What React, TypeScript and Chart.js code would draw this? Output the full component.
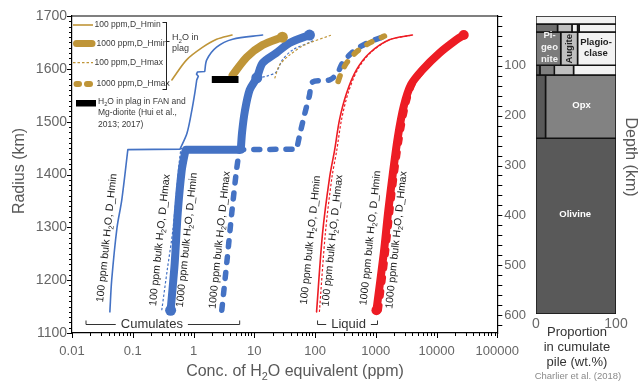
import React, { useEffect, useRef } from 'react';
import { Chart, registerables } from 'chart.js';

Chart.register(...registerables);

const FONT = "'Liberation Sans', Arial, Helvetica, sans-serif";
const BLUE = '#4472C4';
const GOLD = '#BF9538';
const RED = '#ED1C24';
const AXIS_TEXT = '#666666';
const TITLE_TEXT = '#595959';

// ---------- axis ticks ----------
const xDecades = [0.01, 0.1, 1, 10, 100, 1000, 10000, 100000];
const xDecadeLabels = ['0.01', '0.1', '1', '10', '100', '1000', '10000', '100000'];
const radiusTicks = [1100, 1200, 1300, 1400, 1500, 1600, 1700];
const depthTicks = [100, 200, 300, 400, 500, 600];
const proportionTicks = [0, 100];

// ---------- cumulates (blue) ----------
const cum100MinPpm = [0.042, 0.045, 0.055, 0.066, 0.083, 0.6, 0.78, 0.94, 1.05, 1.13, 1.2, 1.12, 1.16, 1.53, 1.65, 2.4, 4.4, 13.7];
const cum100MinKm = [1140, 1200, 1299, 1352, 1447, 1448, 1478, 1522, 1554, 1579, 1586, 1590, 1594, 1595, 1617, 1641, 1656, 1664];
const cum100MinCorners = [4, 5, 9, 10, 11, 12, 13];

const cum100MaxPpm = [0.3, 0.37, 0.457, 0.58, 0.62, 6.0, 6.4, 8.4, 11, 16, 23, 29, 43, 81, 100];
const cum100MaxKm = [1143, 1220, 1295, 1422, 1449, 1449, 1503, 1560, 1582, 1586, 1594, 1617, 1636, 1650, 1655];
const cum100MaxCorners = [4, 5, 8, 9];

const cum1000MinPpm = [0.42, 0.49, 0.55, 0.64, 0.72, 0.75, 6.0, 6.3, 7.0, 8.4, 11, 13.7, 23, 38, 81];
const cum1000MinKm = [1143, 1232, 1327, 1408, 1440, 1447, 1447, 1480, 1520, 1560, 1583, 1611, 1630, 1649, 1664];
const cum1000MinCorners = [5, 6];
const cum1000MinBulbs = [0, 10, 14];

const cum1000MaxPpm = [2.92, 3.52, 4.26, 5.1, 5.7, 50, 56, 67, 81, 91, 174, 234, 283, 400, 540, 790, 1290];
const cum1000MaxKm = [1143, 1232, 1327, 1408, 1447, 1448, 1475, 1513, 1550, 1575, 1579, 1592, 1611, 1630, 1641, 1651, 1660];
const cum1000MaxCorners = [4, 5];

// ---------- H2O in plag (gold) ----------
const plag100MinPpm = [0.44, 0.77, 1.42, 2.4, 4.3];
const plag100MinKm = [1579, 1617, 1641, 1656, 1664];
const plag1000MinPpm = [4.4, 7.5, 13.7, 29];
const plag1000MinKm = [1588, 1622, 1645, 1660];
const plag1000MinBulbs = [3];
const plag100MaxPpm = [21.7, 26, 38, 67, 186];
const plag100MaxKm = [1582, 1607, 1626, 1645, 1664];
const plag1000MaxPpm = [240, 265, 330, 480, 790, 1390];
const plag1000MaxKm = [1576, 1590, 1611, 1632, 1649, 1662];

// ---------- liquid (red) ----------
const liq100MinPpm = [106, 133, 174, 210, 252, 330, 480, 790, 1670, 4000];
const liq100MinKm = [1140, 1289, 1395, 1446, 1503, 1554, 1598, 1630, 1655, 1664];
const liq100MaxPpm = [118, 148, 190, 228, 272, 350, 500, 810, 1700, 4000];
const liq100MaxKm = [1140, 1289, 1395, 1446, 1503, 1554, 1598, 1630, 1655, 1664];
const liq1000MinPpm = [1025, 1350, 1600, 1900, 2300, 2900, 3800, 5860, 11200, 21200, 28000];
const liq1000MinKm = [1143, 1250, 1330, 1400, 1470, 1530, 1570, 1598, 1630, 1655, 1664];
const liq1000MinBulbs = [0, 10];
const liq1000MaxPpm = [1150, 1500, 1780, 2100, 2550, 3200, 4100, 6200, 11700, 21500, 28500];
const liq1000MaxKm = [1143, 1250, 1330, 1400, 1470, 1530, 1570, 1598, 1630, 1655, 1664];

// ---------- measured H2O in plag (FAN / Mg-diorite) ----------
const fanPlagPpm = [2.0, 5.5];
const fanPlagKm = [1580, 1580];

// ---------- curve labels ----------
const curveLabels = [
  { t: '100 ppm bulk H₂O, D_Hmin', x: 0.0376, r: 1280 },
  { t: '100 ppm bulk H₂O, D_Hmax', x: 0.28, r: 1276 },
  { t: '1000 ppm bulk H₂O, D_Hmin', x: 0.78, r: 1276 },
  { t: '1000 ppm bulk H₂O, D_Hmax', x: 2.7, r: 1276 },
  { t: '100 ppm bulk H₂O, D_Hmin', x: 84.5, r: 1276 },
  { t: '100 ppm bulk H₂O, D_Hmax', x: 194, r: 1275 },
  { t: '1000 ppm bulk H₂O, D_Hmin', x: 818, r: 1280 },
  { t: '1000 ppm bulk H₂O, D_Hmax', x: 2190, r: 1276 },
];
const groupBrackets = [
  { t: 'Cumulates', x0: 0.017, x1: 5.75, xt: 0.206, r: 1117 },
  { t: 'Liquid', x0: 110, x1: 1067, xt: 356, r: 1117 },
];

// ---------- cumulate pile column ----------
const rowDepths = [0, 16, 32, 99, 119, 246, 600];
const rowCells = [
  [0, 100],
  [0, 27, 45, 52, 54, 100],
  [0, 31, 52, 100],
  [0, 5, 23, 47, 100],
  [0, 12, 100],
  [0, 100],
];
const rowColors = [
  ['#f2f2f2'],
  ['#6e6e6e', '#bfbfbf', '#f2f2f2', '#bfbfbf', '#f2f2f2'],
  ['#7b7b7b', '#bfbfbf', '#f2f2f2'],
  ['#595959', '#7f7f7f', '#bfbfbf', '#f2f2f2'],
  ['#595959', '#828282'],
  ['#595959'],
];
const mineralLabels = [
  { t: 'Pi-', x: 17, d: 40, c: '#f4f4f4', rot: 0 },
  { t: 'geo', x: 17, d: 63, c: '#f4f4f4', rot: 0 },
  { t: 'nite', x: 17, d: 88, c: '#f4f4f4', rot: 0 },
  { t: 'Augite', x: 42, d: 66, c: '#222222', rot: -90 },
  { t: 'Plagio-', x: 75, d: 53, c: '#222222', rot: 0 },
  { t: 'clase', x: 75, d: 76, c: '#222222', rot: 0 },
  { t: 'Opx', x: 57, d: 180, c: '#ffffff', rot: 0 },
  { t: 'Olivine', x: 49, d: 399, c: '#ffffff', rot: 0 },
];

// ---------- helpers ----------
function drawRich(ctx: any, text: string, x: number, y: number, size: number, color: string, weight = 'normal', align = 'center') {
  const parts: { t: string; sub: boolean }[] = [];
  let buf = '';
  for (const ch of text) {
    if (ch === '₂') {
      if (buf) parts.push({ t: buf, sub: false });
      buf = '';
      parts.push({ t: '2', sub: true });
    } else buf += ch;
  }
  if (buf) parts.push({ t: buf, sub: false });
  const subSize = size * 0.68;
  const widths = parts.map((p) => {
    ctx.font = `${weight} ${p.sub ? subSize : size}px ${FONT}`;
    return ctx.measureText(p.t).width;
  });
  const total = widths.reduce((a, b) => a + b, 0);
  let cx = align === 'center' ? x - total / 2 : align === 'right' ? x - total : x;
  ctx.fillStyle = color;
  ctx.textBaseline = 'middle';
  ctx.textAlign = 'left';
  parts.forEach((p, i) => {
    ctx.font = `${weight} ${p.sub ? subSize : size}px ${FONT}`;
    ctx.fillText(p.t, cx, p.sub ? y + size * 0.32 : y);
    cx += widths[i];
  });
}

function seg(ctx: any, x0: number, y0: number, x1: number, y1: number) {
  ctx.beginPath();
  ctx.moveTo(x0, y0);
  ctx.lineTo(x1, y1);
  ctx.stroke();
}

function series(ppm: number[], km: number[], o: any) {
  const pts: any[] = [];
  const bulbSet = new Set<any>();
  ppm.forEach((v, i) => {
    const p = { x: v, y: km[i] };
    pts.push(p);
    if (o.bulbs && o.bulbs.includes(i)) bulbSet.add(p);
    if (o.corners && o.corners.includes(i)) pts.push({ x: v, y: km[i] });
  });
  return {
    data: pts,
    showLine: true,
    fill: false,
    borderColor: o.color,
    backgroundColor: o.color,
    borderWidth: o.width,
    borderDash: o.dash || [],
    borderCapStyle: o.cap || 'round',
    borderJoinStyle: 'round',
    tension: o.tension ?? 0.3,
    pointRadius: (c: any) => (bulbSet.has(c.raw) ? o.bulbR || 5 : 0),
    pointHoverRadius: 0,
    pointBackgroundColor: o.color,
    pointBorderWidth: 0,
  };
}

const mainDecor = {
  id: 'mainDecor',
  afterDraw(chart: any) {
    const { ctx, chartArea: a, scales } = chart;
    const sx = scales.x;
    const sy = scales.y;
    const sd = scales.y2;
    ctx.save();
    ctx.strokeStyle = '#000';
    ctx.lineWidth = 1.2;
    seg(ctx, a.left, a.top, a.right, a.top);
    ctx.lineWidth = 1;
    // x ticks (log)
    for (let e = -2; e <= 5; e++) {
      for (let m = 1; m <= 9; m++) {
        const v = m * Math.pow(10, e);
        if (v > 100000 * 1.0001) break;
        const px = Math.round(sx.getPixelForValue(v)) + 0.5;
        seg(ctx, px, a.bottom, px, a.bottom + (m === 1 ? 5 : 3));
      }
    }
    // radius ticks
    for (let r = 1100; r <= 1700; r += 10) {
      const py = Math.round(sy.getPixelForValue(r)) + 0.5;
      const len = r % 100 === 0 ? 5 : 3;
      seg(ctx, a.left - len, py, a.left, py);
    }
    // depth ticks
    for (let d = 0; d <= 620; d += 20) {
      const py = Math.round(sd.getPixelForValue(d)) + 0.5;
      seg(ctx, a.right, py, a.right + 5, py);
    }
    // axis titles
    drawRich(ctx, 'Conc. of H₂O equivalent (ppm)', a.left + 223, a.bottom + 39, 16, TITLE_TEXT);
    ctx.save();
    ctx.translate(20, a.top + 155);
    ctx.rotate(-Math.PI / 2);
    drawRich(ctx, 'Radius (km)', 0, 0, 16, TITLE_TEXT);
    ctx.restore();

    // curve labels
    for (const l of curveLabels) {
      const px = sx.getPixelForValue(l.x);
      const py = sy.getPixelForValue(l.r);
      ctx.save();
      ctx.translate(px, py);
      ctx.rotate((-84 * Math.PI) / 180);
      drawRich(ctx, l.t, 0, 0, 10.5, '#1a1a1a');
      ctx.restore();
    }
    // group brackets
    ctx.strokeStyle = '#333';
    ctx.lineWidth = 1;
    for (const b of groupBrackets) {
      const p0 = sx.getPixelForValue(b.x0);
      const p1 = sx.getPixelForValue(b.x1);
      const pt = sx.getPixelForValue(b.xt);
      const py = Math.round(sy.getPixelForValue(b.r)) + 0.5;
      ctx.font = `13px ${FONT}`;
      const w = ctx.measureText(b.t).width;
      seg(ctx, p0, py, pt - w / 2 - 5, py);
      seg(ctx, pt + w / 2 + 5, py, p1, py);
      seg(ctx, p0, py, p0, py - 4);
      seg(ctx, p1, py, p1, py - 4);
      drawRich(ctx, b.t, pt, py, 13, '#333');
    }

    // legend
    const L = a.left;
    const T = a.top;
    const lt = '#3a3a3a';
    const lf = 8.5;
    ctx.strokeStyle = GOLD;
    ctx.lineCap = 'butt';
    ctx.lineWidth = 1.6;
    seg(ctx, L + 1, T + 9, L + 21, T + 9);
    drawRich(ctx, '100 ppm,D_Hmin', L + 22.5, T + 9, lf, lt, 'normal', 'left');
    ctx.lineCap = 'round';
    ctx.lineWidth = 7;
    seg(ctx, L + 4.5, T + 27.5, L + 20, T + 27.5);
    drawRich(ctx, '1000 ppm,D_Hmin', L + 24.5, T + 27.5, lf, lt, 'normal', 'left');
    ctx.lineCap = 'butt';
    ctx.lineWidth = 1.2;
    ctx.setLineDash([2.5, 2]);
    seg(ctx, L + 1, T + 46.7, L + 21, T + 46.7);
    ctx.setLineDash([]);
    drawRich(ctx, '100 ppm,D_Hmax', L + 22.5, T + 46.7, lf, lt, 'normal', 'left');
    ctx.lineCap = 'round';
    ctx.lineWidth = 6;
    seg(ctx, L + 4.5, T + 68, L + 7, T + 68);
    seg(ctx, L + 15, T + 68, L + 18, T + 68);
    drawRich(ctx, '1000 ppm,D_Hmax', L + 24.5, T + 68, lf, lt, 'normal', 'left');
    ctx.lineCap = 'butt';
    ctx.strokeStyle = '#222';
    ctx.lineWidth = 1;
    const bx = L + 94.5;
    seg(ctx, bx, T + 6, bx, T + 74);
    seg(ctx, bx - 4, T + 6.5, bx, T + 6.5);
    seg(ctx, bx - 4, T + 73.5, bx, T + 73.5);
    seg(ctx, bx, T + 25.5, bx + 3, T + 25.5);
    drawRich(ctx, 'H₂O in', L + 100, T + 22, 9, lt, 'normal', 'left');
    drawRich(ctx, 'plag', L + 100, T + 33, 9, lt, 'normal', 'left');
    ctx.fillStyle = '#000';
    ctx.fillRect(L + 4, T + 84, 20, 6.5);
    drawRich(ctx, 'H₂O in plag in FAN and', L + 26, T + 85.5, lf, lt, 'normal', 'left');
    drawRich(ctx, 'Mg-diorite (Hui et al.,', L + 26, T + 97, lf, lt, 'normal', 'left');
    drawRich(ctx, '2013; 2017)', L + 26, T + 108.5, lf, lt, 'normal', 'left');
    ctx.restore();
  },
};

const colDecor = {
  id: 'colDecor',
  afterDraw(chart: any) {
    const { ctx, chartArea: a, scales } = chart;
    const sx = scales.x;
    const sy = scales.y;
    ctx.save();
    for (const m of mineralLabels) {
      const px = sx.getPixelForValue(m.x);
      const py = sy.getPixelForValue(m.d);
      ctx.save();
      ctx.translate(px, py);
      if (m.rot) ctx.rotate((m.rot * Math.PI) / 180);
      drawRich(ctx, m.t, 0, 0, 9.5, m.c, 'bold');
      ctx.restore();
    }
    const cx = (a.left + a.right) / 2;
    drawRich(ctx, 'Proportion', cx + 1, a.bottom + 18, 13, '#333');
    drawRich(ctx, 'in cumulate', cx + 1, a.bottom + 33, 13, '#333');
    drawRich(ctx, 'pile (wt.%)', cx + 1, a.bottom + 48, 13, '#333');
    drawRich(ctx, 'Charlier et al. (2018)', cx + 2, a.bottom + 62, 9.5, '#8a8a8a');
    ctx.translate(a.right + 14, a.top + 141);
    ctx.rotate(Math.PI / 2);
    drawRich(ctx, 'Depth (km)', 0, 0, 16, TITLE_TEXT);
    ctx.restore();
  },
};

function mainConfig(): any {
  const datasets = [
    series(fanPlagPpm, fanPlagKm, { color: '#000', width: 7, cap: 'butt', tension: 0 }),
    series(plag100MinPpm, plag100MinKm, { color: GOLD, width: 1.6 }),
    series(plag100MaxPpm, plag100MaxKm, { color: GOLD, width: 1.2, dash: [2.5, 2], cap: 'butt' }),
    series(cum100MinPpm, cum100MinKm, { color: BLUE, width: 1.6, corners: cum100MinCorners }),
    series(cum100MaxPpm, cum100MaxKm, { color: BLUE, width: 1.2, dash: [2.5, 2], cap: 'butt', corners: cum100MaxCorners }),
    series(liq100MinPpm, liq100MinKm, { color: RED, width: 1.6 }),
    series(liq100MaxPpm, liq100MaxKm, { color: RED, width: 1.2, dash: [2.5, 2], cap: 'butt' }),
    series(plag1000MaxPpm, plag1000MaxKm, { color: GOLD, width: 5.5, dash: [6, 10] }),
    series(cum1000MaxPpm, cum1000MaxKm, { color: BLUE, width: 5.5, dash: [6, 10], corners: cum1000MaxCorners }),
    series(plag1000MinPpm, plag1000MinKm, { color: GOLD, width: 8, bulbs: plag1000MinBulbs, bulbR: 5.5 }),
    series(cum1000MinPpm, cum1000MinKm, { color: BLUE, width: 8, corners: cum1000MinCorners, bulbs: cum1000MinBulbs, bulbR: 5.5 }),
    series(liq1000MaxPpm, liq1000MaxKm, { color: RED, width: 5, dash: [5, 9] }),
    series(liq1000MinPpm, liq1000MinKm, { color: RED, width: 8, bulbs: liq1000MinBulbs, bulbR: 5 }),
  ];
  const border = { display: true, color: '#000', width: 1.2 };
  const grid = { display: false, drawTicks: false, tickLength: 0 };
  return {
    type: 'scatter',
    data: { datasets },
    options: {
      animation: false,
      responsive: false,
      maintainAspectRatio: false,
      layout: { padding: { top: 16, left: 0, right: 0, bottom: 0 } },
      plugins: { legend: { display: false }, tooltip: { enabled: false } },
      elements: { point: { radius: 0 } },
      scales: {
        x: {
          type: 'logarithmic',
          min: 0.01,
          max: 100000,
          afterBuildTicks: (s: any) => {
            s.ticks = xDecades.map((v) => ({ value: v }));
          },
          afterFit: (s: any) => {
            s.height = 50;
          },
          grid,
          border,
          ticks: {
            autoSkip: false,
            maxRotation: 0,
            minRotation: 0,
            padding: 11,
            color: AXIS_TEXT,
            font: { family: FONT, size: 13 },
            callback: (_v: any, i: number) => xDecadeLabels[i],
          },
        },
        y: {
          type: 'linear',
          position: 'left',
          min: 1100,
          max: 1700,
          afterBuildTicks: (s: any) => {
            s.ticks = radiusTicks.map((v) => ({ value: v }));
          },
          afterFit: (s: any) => {
            s.width = 72;
          },
          grid,
          border,
          ticks: { padding: 5, color: AXIS_TEXT, font: { family: FONT, size: 14 }, callback: (v: any) => String(v) },
        },
        y2: {
          type: 'linear',
          position: 'right',
          min: 0,
          max: 636,
          reverse: true,
          afterBuildTicks: (s: any) => {
            s.ticks = depthTicks.map((v) => ({ value: v }));
          },
          afterFit: (s: any) => {
            s.width = 32;
          },
          grid,
          border,
          ticks: { padding: 7, color: AXIS_TEXT, font: { family: FONT, size: 13 }, callback: (v: any) => String(v) },
        },
      },
    },
    plugins: [mainDecor],
  };
}

function colConfig(): any {
  const datasets: any[] = [];
  rowCells.forEach((bounds, ri) => {
    const d0 = rowDepths[ri];
    const d1 = rowDepths[ri + 1];
    for (let k = 0; k < bounds.length - 1; k++) {
      const x0 = bounds[k];
      const x1 = bounds[k + 1];
      datasets.push({
        data: [
          { x: x0, y: d0 },
          { x: x1, y: d0 },
          { x: x1, y: d1 },
          { x: x0, y: d1 },
          { x: x0, y: d0 },
        ],
        showLine: true,
        fill: 'shape',
        backgroundColor: rowColors[ri][k],
        borderColor: '#111',
        borderWidth: 1.5,
        borderJoinStyle: 'miter',
        tension: 0,
        pointRadius: 0,
        pointHoverRadius: 0,
      });
    }
  });
  return {
    type: 'scatter',
    data: { datasets },
    options: {
      animation: false,
      responsive: false,
      maintainAspectRatio: false,
      layout: { padding: { top: 16, left: 5, right: 28, bottom: 0 } },
      plugins: { legend: { display: false }, tooltip: { enabled: false } },
      scales: {
        x: {
          type: 'linear',
          min: 0,
          max: 100,
          afterBuildTicks: (s: any) => {
            s.ticks = proportionTicks.map((v) => ({ value: v }));
          },
          afterFit: (s: any) => {
            s.height = 69;
          },
          grid: { display: false, drawTicks: false, tickLength: 0 },
          border: { display: false },
          ticks: { padding: 2, color: AXIS_TEXT, font: { family: FONT, size: 14 }, callback: (v: any) => String(v) },
        },
        y: { type: 'linear', min: 0, max: 600, reverse: true, display: false },
      },
    },
    plugins: [colDecor],
  };
}

export default function App() {
  const aRef = useRef<HTMLCanvasElement>(null);
  const bRef = useRef<HTMLCanvasElement>(null);
  useEffect(() => {
    const ca = new Chart(aRef.current as any, mainConfig());
    const cb = new Chart(bRef.current as any, colConfig());
    return () => {
      ca.destroy();
      cb.destroy();
    };
  }, []);
  return (
    <div style={{ position: 'fixed', left: 0, top: 0, width: 644, height: 383, background: '#fff' }}>
      <canvas ref={aRef} width={530} height={383} style={{ position: 'absolute', left: 0, top: 0, width: 530, height: 383 }} />
      <canvas ref={bRef} width={114} height={383} style={{ position: 'absolute', left: 530, top: 0, width: 114, height: 383 }} />
    </div>
  );
}
